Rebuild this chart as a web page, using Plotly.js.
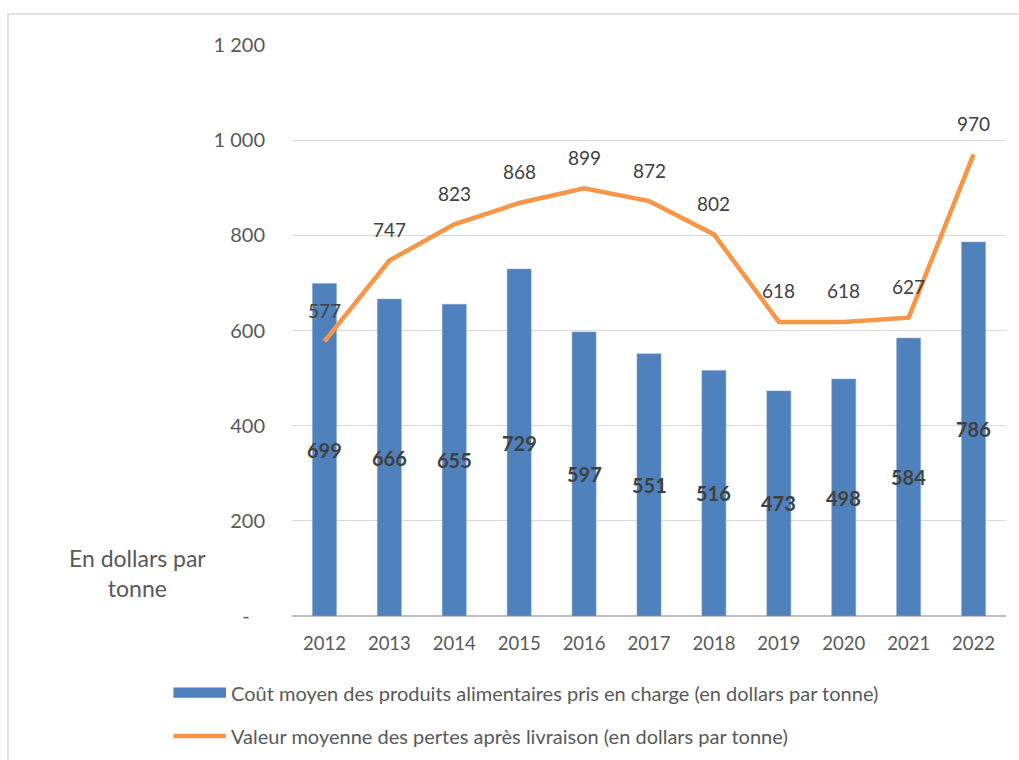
<!DOCTYPE html>
<html>
<head>
<meta charset="utf-8">
<script src="https://cdn.plot.ly/plotly-3.0.1.min.js"></script>
<style>html,body{margin:0;padding:0;background:#fff;}#chart{width:1019px;height:760px;}</style>
</head>
<body>
<div id="chart"></div>
<script>
const years = ["2012","2013","2014","2015","2016","2017","2018","2019","2020","2021","2022"];
const coutMoyen = [699,666,655,729,597,551,516,473,498,584,786];
const valeurPertes = [577,747,823,868,899,872,802,618,618,627,970];
const yTickVals = [0,200,400,600,800,1000,1200];
const yTickText = ["-\u00a0\u00a0\u00a0","200","400","600","800","1\u00a0000","1\u00a0200"];
const legendLabels = [
  "Coût moyen des produits alimentaires pris en charge (en dollars par tonne)",
  "Valeur moyenne des pertes après livraison (en dollars par tonne)"
];
const yTitle = "En dollars par<br>tonne";

const FONT = "Lato, 'Noto Sans', sans-serif";
const blue = "#4F81BD";
const orange = "#F79646";
const txt = "#595959";

const traces = [
  {type:"bar", x:years, y:coutMoyen, marker:{color:blue, line:{color:"#7FA3D0", width:0.5}},
   name:legendLabels[0], hoverinfo:"x+y"},
  {type:"scatter", mode:"lines", x:years, y:valeurPertes, line:{color:orange, width:4.5},
   name:legendLabels[1], hoverinfo:"x+y"}
];

const annotations = [];
years.forEach((yr,i)=>{
  annotations.push({x:i, y:coutMoyen[i]/2, xref:"x", yref:"y", text:String(coutMoyen[i]),
    showarrow:false, font:{family:FONT, size:20, color:"#404040", weight:700}, yanchor:"middle"});
  annotations.push({x:i, y:valeurPertes[i], xref:"x", yref:"y", text:String(valeurPertes[i]),
    showarrow:false, font:{family:FONT, size:19, color:"#404040"}, yanchor:"middle", yshift:31});
});
// y-axis title
annotations.push({xref:"paper", yref:"paper", x:-0.216, y:0.075, text:yTitle, showarrow:false,
  font:{family:FONT, size:23, color:txt}, align:"center", xanchor:"center", yanchor:"middle"});
// manual legend text
annotations.push({xref:"paper", yref:"paper", x:-0.088, y:-0.135, text:legendLabels[0], showarrow:false,
  xanchor:"left", yanchor:"middle", font:{family:FONT, size:20, color:txt}});
annotations.push({xref:"paper", yref:"paper", x:-0.088, y:-0.210, text:legendLabels[1], showarrow:false,
  xanchor:"left", yanchor:"middle", font:{family:FONT, size:20, color:txt}});

const shapes = [
  {type:"rect", xref:"paper", yref:"paper", x0:-0.3978, x1:1.2, y0:-0.5, y1:1.0543,
   line:{color:"#D9D9D9", width:1.5}, fillcolor:"rgba(0,0,0,0)", layer:"below"},
  {type:"rect", xref:"paper", yref:"paper", x0:-0.166, x1:-0.0925, y0:-0.143, y1:-0.125,
   line:{width:0}, fillcolor:blue},
  {type:"line", xref:"paper", yref:"paper", x0:-0.166, x1:-0.0925, y0:-0.210, y1:-0.210,
   line:{color:orange, width:4.5}}
];

const layout = {
  width:1019, height:760,
  margin:{l:292, r:13, t:45, b:144},
  paper_bgcolor:"#fff", plot_bgcolor:"#fff",
  font:{family:FONT, color:txt, size:18},
  showlegend:false,
  bargap:0.63,
  xaxis:{type:"category", range:[-0.5,10.5], showgrid:false, zeroline:false,
    showline:false, ticks:"", tickfont:{family:FONT, size:18.5, color:txt}, ticklabelstandoff:14, fixedrange:true},
  yaxis:{range:[0,1200], tickvals:yTickVals, ticktext:yTickText, showgrid:true, gridcolor:"#D9D9D9",
    gridwidth:1, zeroline:true, zerolinecolor:"#BFBFBF", zerolinewidth:1.5, showline:false, ticks:"",
    tickfont:{family:FONT, size:20, color:txt}, ticklabelstandoff:26, fixedrange:true},
  annotations:annotations,
  shapes:shapes
};

Plotly.newPlot("chart", traces, layout, {displayModeBar:false, staticPlot:true});
</script>
</body>
</html>
